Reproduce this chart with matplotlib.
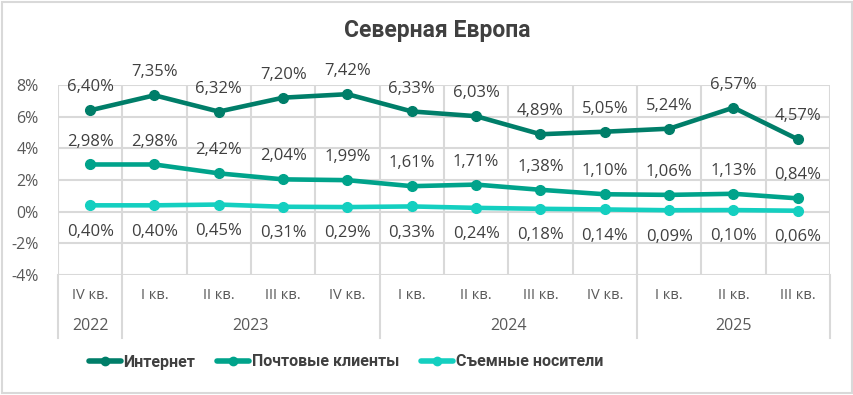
import matplotlib
matplotlib.use("Agg")
import matplotlib.pyplot as plt
from matplotlib.patches import Rectangle
from matplotlib.lines import Line2D

title = "Северная Европа"
quarters = ["IV кв.", "I кв.", "II кв.", "III кв.", "IV кв.", "I кв.", "II кв.", "III кв.",
            "IV кв.", "I кв.", "II кв.", "III кв."]
years = ["2022", "2023", "2024", "2025"]
year_counts = [1, 4, 4, 3]
series_names = ["Интернет", "Почтовые клиенты", "Съемные носители"]
internet = [6.40, 7.35, 6.32, 7.20, 7.42, 6.33, 6.03, 4.89, 5.05, 5.24, 6.57, 4.57]
mail = [2.98, 2.98, 2.42, 2.04, 1.99, 1.61, 1.71, 1.38, 1.10, 1.06, 1.13, 0.84]
removable = [0.40, 0.40, 0.45, 0.31, 0.29, 0.33, 0.24, 0.18, 0.14, 0.09, 0.10, 0.06]
yticks = [-4, -2, 0, 2, 4, 6, 8]

colors = ["#007E69", "#00A38B", "#14CFC0"]
label_color = "#404040"
axis_color = "#595959"
grid_color = "#D9D9D9"
label_font = ["Open Sans", "DejaVu Sans"]
bold_font = ["Roboto", "DejaVu Sans"]

fig = plt.figure(figsize=(8.54, 3.95), dpi=100)
fig.patches.append(Rectangle((0.0025, 0.004), 0.995, 0.992, transform=fig.transFigure,
                             fill=False, edgecolor=grid_color, linewidth=1.5))
ax = fig.add_axes([58/854, 1-275/395, (830-58)/854, 190/395])

n = len(quarters)
x = list(range(n))
ax.set_xlim(-0.5, n-0.5)
ax.set_ylim(-4, 8)
ax.set_yticks(yticks)
ax.set_yticklabels([f"{v}%" for v in yticks], fontsize=11.5, color=axis_color, family=label_font)
ax.tick_params(axis="y", length=0, pad=14)
ax.set_xticks([])
for s in ax.spines.values():
    s.set_visible(False)
for v in yticks:
    ax.axhline(v, color=grid_color, lw=1.5, zorder=0)
for b in range(n+1):
    ax.axvline(b-0.5, color=grid_color, lw=1.5, zorder=0)

data = [internet, mail, removable]
offsets = [16.5, 16.5, -19]
for vals, c, name, off in zip(data, colors, series_names, offsets):
    ax.plot(x, vals, color=c, lw=3.3, marker="o", ms=7, label=name, zorder=3,
            solid_capstyle="round")
    for xi, v in zip(x, vals):
        ax.annotate(f"{v:.2f}%".replace(".", ","), (xi, v), xytext=(0, off),
                    textcoords="offset points", ha="center", va="center",
                    fontsize=12, color=label_color, family=label_font)

# category axis (two levels)
trans = ax.get_xaxis_transform()
for xi, q in zip(x, quarters):
    ax.text(xi, -0.11, q, transform=trans, ha="center", va="center",
            fontsize=10.5, color=axis_color, family=label_font)
start = 0
bounds = [-0.5]
for yr, cnt in zip(years, year_counts):
    center = start + (cnt-1)/2
    ax.text(center, -0.27, yr, transform=trans, ha="center", va="center",
            fontsize=11.5, color=axis_color, family=label_font)
    start += cnt
    bounds.append(start-0.5)
for b in bounds:
    ax.add_line(Line2D([b, b], [0, -0.332], transform=trans, color=grid_color,
                       lw=1.5, clip_on=False))

fig.text(437/854, 1-30/395, title, ha="center", va="center", fontsize=16.5,
         fontweight="bold", color=label_color, family=bold_font)

leg = fig.legend(loc="center", bbox_to_anchor=(346/854, 1-362/395), ncol=3, frameon=False,
                 handlelength=2.0, handletextpad=0.15, columnspacing=1.4,
                 prop={"family": bold_font, "weight": "bold", "size": 11.5})
for t in leg.get_texts():
    t.set_color(label_color)
for h in leg.legend_handles:
    h.set_markersize(6)
    h.set_linewidth(4)

fig.savefig("out.png", dpi=100)
